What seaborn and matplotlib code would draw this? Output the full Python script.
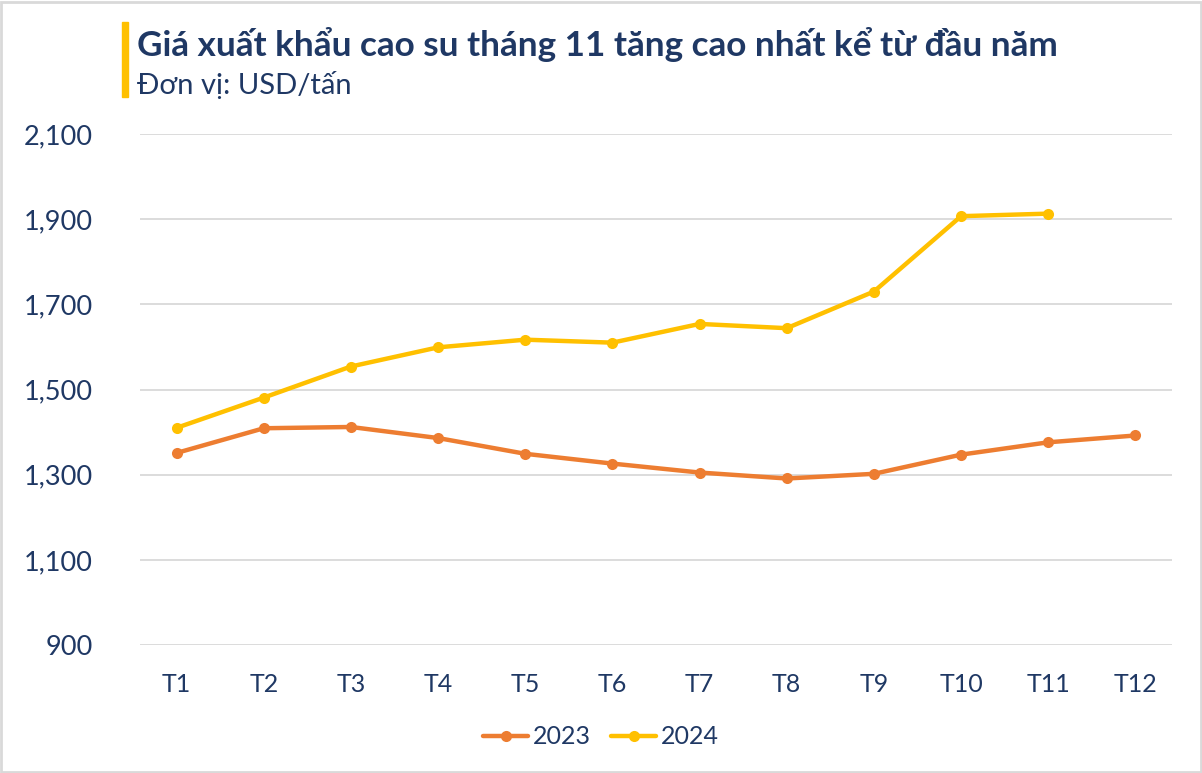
import pandas as pd
import numpy as np
import matplotlib
matplotlib.use("Agg")
import matplotlib.pyplot as plt
import seaborn as sns
from matplotlib.patches import Rectangle

sns.set_style("white")
plt.rcParams['font.family'] = ['Lato', 'DejaVu Sans']

months = ['T1', 'T2', 'T3', 'T4', 'T5', 'T6', 'T7', 'T8', 'T9', 'T10', 'T11', 'T12']
price_2023 = [1351, 1409, 1412, 1386, 1349, 1326, 1305, 1291, 1302, 1347, 1376, 1392]
price_2024 = [1410, 1481, 1554, 1599, 1617, 1610, 1654, 1644, 1730, 1907, 1913, np.nan]
y_ticks = [900, 1100, 1300, 1500, 1700, 1900, 2100]

navy = '#1F3864'
colors = {'2023': '#ED7D31', '2024': '#FFC000'}

df = pd.DataFrame({
    'month': months * 2,
    'price': price_2023 + price_2024,
    'year': ['2023'] * 12 + ['2024'] * 12,
})
df['pos'] = df.groupby('year').cumcount()

fig = plt.figure(figsize=(12.02, 7.73), dpi=100)
ax = fig.add_axes([140 / 1202, 1 - 645 / 773, (1172 - 140) / 1202, (645 - 134) / 773])

sns.lineplot(data=df, x='pos', y='price', hue='year', palette=colors,
             marker='o', markersize=8, markeredgewidth=0, linewidth=3.2,
             ax=ax, legend=True)

ax.set_xlim(-0.42, 11.42)
ax.set_ylim(900, 2100)
ax.set_yticks(y_ticks)
ax.set_yticklabels([f'{v:,}' for v in y_ticks])
ax.set_xticks(range(len(months)))
ax.set_xticklabels(months)
ax.grid(axis='y', color='#D9D9D9', linewidth=1.3)
ax.set_axisbelow(True)
for s in ax.spines.values():
    s.set_visible(False)
ax.tick_params(axis='both', length=0, colors=navy)
ax.tick_params(axis='y', pad=34, labelsize=19.5)
ax.tick_params(axis='x', pad=20, labelsize=18)
ax.set_xlabel('')
ax.set_ylabel('')

handles, labels = ax.get_legend_handles_labels()
ax.legend(handles, labels, loc='center', bbox_to_anchor=(0.5, 1 - 737 / 773),
          bbox_transform=fig.transFigure, ncol=2, frameon=False,
          fontsize=18, labelcolor=navy, handlelength=1.8, columnspacing=0.8,
          handletextpad=0.2)

# title block
fig.patches.append(Rectangle((122 / 1202, 1 - 97 / 773), 6 / 1202, 75 / 773,
                             transform=fig.transFigure, color='#FFC000'))
fig.text(137 / 1202, 1 - 44 / 773, 'Giá xuất khẩu cao su tháng 11 tăng cao nhất kể từ đầu năm',
         fontsize=25.3, fontweight='bold', color=navy, va='center')
fig.text(137 / 1202, 1 - 85 / 773, 'Đơn vị: USD/tấn',
         fontsize=21, color=navy, va='center')

# light frame
fig.patches.append(Rectangle((0.001, 0.001), 0.998, 0.997, transform=fig.transFigure,
                             fill=False, edgecolor='#D9D9D9', linewidth=2))

fig.savefig('out.png', dpi=100)
